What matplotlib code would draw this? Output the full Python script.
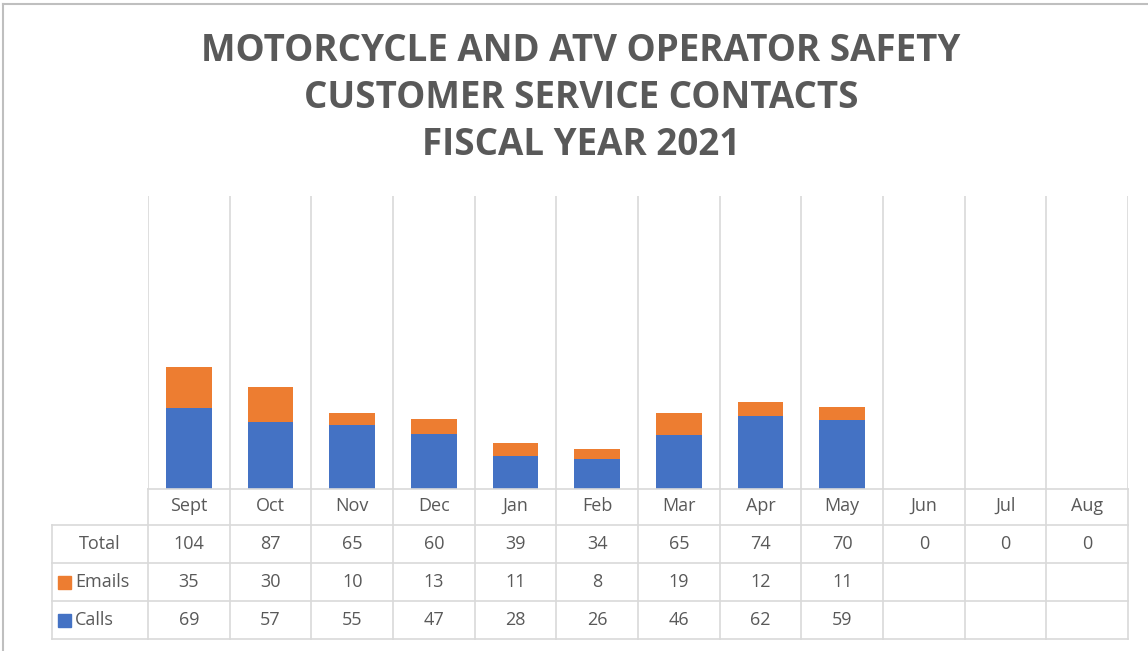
import numpy as np
import matplotlib.pyplot as plt
from matplotlib.lines import Line2D
from matplotlib.patches import Rectangle

# Datos del gráfico
meses = ['Sept', 'Oct', 'Nov', 'Dec', 'Jan', 'Feb', 'Mar', 'Apr', 'May', 'Jun', 'Jul', 'Aug']
calls = [69, 57, 55, 47, 28, 26, 46, 62, 59]
emails = [35, 30, 10, 13, 11, 8, 19, 12, 11]
total = [104, 87, 65, 60, 39, 34, 65, 74, 70, 0, 0, 0]
titulo = 'MOTORCYCLE AND ATV OPERATOR SAFETY\nCUSTOMER SERVICE CONTACTS\nFISCAL YEAR 2021'

azul = '#4472C4'
naranja = '#ED7D31'
gris_texto = '#595959'
gris_linea = '#D9D9D9'

W, H = 1148, 651
fig = plt.figure(figsize=(W / 100, H / 100), dpi=100)
plt.rcParams['font.family'] = ['Open Sans', 'DejaVu Sans']

# borde exterior del gráfico
fig.add_artist(Line2D([3 / W, 3 / W], [0, 1 - 4 / H], color='#BFBFBF', lw=1.5))
fig.add_artist(Line2D([3 / W, 1], [1 - 4 / H, 1 - 4 / H], color='#BFBFBF', lw=1.5))

# título
fig.text(581 / W, 1 - 98 / H, titulo, ha='center', va='center', fontsize=26.5,
         fontweight='bold', color=gris_texto, linespacing=1.32)

# área de barras
x0, x1 = 148, 1128
y_top, y_base = 196, 489
ax = fig.add_axes([x0 / W, 1 - y_base / H, (x1 - x0) / W, (y_base - y_top) / H])
n = len(meses)
x = np.arange(n)
ax.bar(x[:len(calls)], calls, width=0.56, color=azul, zorder=3)
ax.bar(x[:len(emails)], emails, width=0.56, bottom=calls, color=naranja, zorder=3)
ax.set_xlim(-0.5, n - 0.5)
ax.set_ylim(0, 250)
for xv in np.arange(-0.5, n, 1):
    ax.axvline(xv, color=gris_linea, lw=1.2, zorder=1)
ax.set_xticks([])
ax.set_yticks([])
for s in ax.spines.values():
    s.set_visible(False)

# tabla de datos debajo
col_w = (x1 - x0) / n
y_tab_bot = 639
tx = fig.add_axes([52 / W, 1 - y_tab_bot / H, (x1 - 52) / W, (y_tab_bot - y_base) / H])
tx.set_xlim(52, x1)
tx.set_ylim(y_tab_bot, y_base)
tx.axis('off')
filas = [489, 525, 563, 601, 639]
cols = [x0 + col_w * k for k in range(n + 1)]
centros = [x0 + col_w * (k + 0.5) for k in range(n)]

# líneas horizontales
tx.plot([x0, x1], [filas[0], filas[0]], color=gris_linea, lw=1.2, clip_on=False)
for yv in filas[1:]:
    tx.plot([52, x1], [yv, yv], color=gris_linea, lw=1.2, clip_on=False)
# líneas verticales
tx.plot([52, 52], [filas[1], filas[4]], color=gris_linea, lw=1.2, clip_on=False)
for xv in cols:
    tx.plot([xv, xv], [filas[0], filas[4]], color=gris_linea, lw=1.2, clip_on=False)

fs = 13
for i, m in enumerate(meses):
    tx.text(centros[i], (filas[0] + filas[1]) / 2 - 1, m, ha='center', va='center', fontsize=fs, color=gris_texto)
    tx.text(centros[i], (filas[1] + filas[2]) / 2, str(total[i]), ha='center', va='center', fontsize=fs, color=gris_texto)
for i, v in enumerate(emails):
    tx.text(centros[i], (filas[2] + filas[3]) / 2, str(v), ha='center', va='center', fontsize=fs, color=gris_texto)
for i, v in enumerate(calls):
    tx.text(centros[i], (filas[3] + filas[4]) / 2, str(v), ha='center', va='center', fontsize=fs, color=gris_texto)

tx.text(100, (filas[1] + filas[2]) / 2, 'Total', ha='center', va='center', fontsize=fs, color=gris_texto)
tx.text(75, (filas[2] + filas[3]) / 2, 'Emails', ha='left', va='center', fontsize=fs, color=gris_texto)
tx.text(75, (filas[3] + filas[4]) / 2, 'Calls', ha='left', va='center', fontsize=fs, color=gris_texto)
# marcadores de leyenda
for (yc, col) in [((filas[2] + filas[3]) / 2, naranja), ((filas[3] + filas[4]) / 2, azul)]:
    tx.add_patch(Rectangle((58, yc - 6), 13, 13, color=col, clip_on=False))

fig.savefig('out.png', dpi=100)
